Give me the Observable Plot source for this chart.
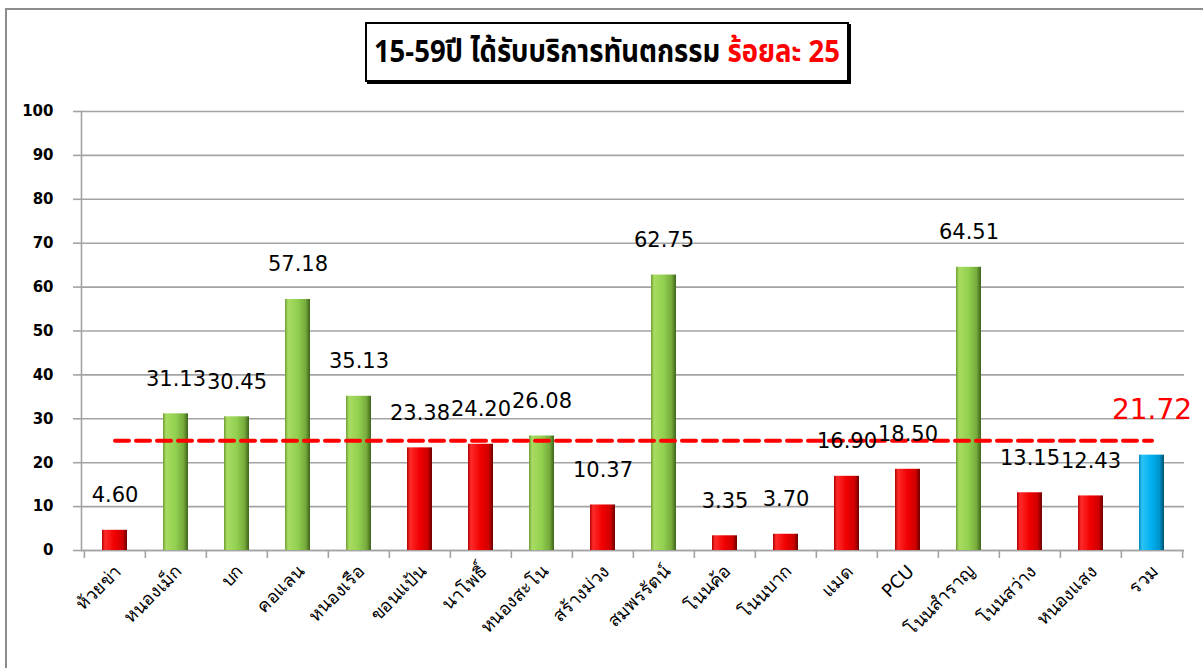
<!DOCTYPE html>
<html>
<head>
<meta charset="utf-8">
<script src="https://cdn.jsdelivr.net/npm/d3@7"></script>
<script src="https://cdn.jsdelivr.net/npm/@observablehq/plot@0.6"></script>
<style>
  body { margin: 0; background: #fff; overflow: hidden; }
  #wrap { position: relative; width: 1203px; height: 668px; overflow: hidden; background: #fff; }
  #frame { position: absolute; left: 5px; top: 8px; width: 1300px; height: 800px; border: 2px solid #8c8c8c; }
  #title { position: absolute; left: 365px; top: 22px; width: 480px; height: 56px; border: 2px solid #000;
           box-shadow: 2px 2px 0 #000; background: #fff; display: flex; align-items: center; justify-content: center; overflow: hidden;
           font-family: Tahoma, "Noto Sans Thai", "Leelawadee UI", "DejaVu Sans", sans-serif; font-weight: bold; font-size: 31px; color: #000; white-space: nowrap; }
  #title .inner { display: inline-block; transform-origin: center center; }
  #title .red { color: #ff0000; }
  #chart { position: absolute; left: 0; top: 0; }
</style>
</head>
<body>
<div id="wrap">
  <div id="frame"></div>
  <div id="chart"></div>
  <div id="title"><span class="inner" id="titleInner">15-59ปี ได้รับบริการทันตกรรม <span class="red">ร้อยละ 25</span></span></div>
</div>
<script>
const categories = ["ห้วยข่า","หนองเม็ก","บก","คอแลน","หนองเรือ","ขอนแป้น","นาโพธิ์","หนองสะโน","สร้างม่วง","สมพรรัตน์","โนนค้อ","โนนบาก","แมด","PCU","โนนสำราญ","โนนสว่าง","หนองแสง","รวม"];
const values = [4.60,31.13,30.45,57.18,35.13,23.38,24.20,26.08,10.37,62.75,3.35,3.70,16.90,18.50,64.51,13.15,12.43,21.72];
const status = ["below","above","above","above","above","below","below","above","below","above","below","below","below","below","above","below","below","total"];
const target = 25;
const yTicks = [0,10,20,30,40,50,60,70,80,90,100];

const data = categories.map((c, i) => ({cat: c, value: values[i], status: status[i]}));

const W = 1203, H = 668, mL = 81, mR = 19, mT = 111, mB = 118;
const step = (W - mL - mR) / categories.length;
const font = 'Tahoma, "DejaVu Sans", sans-serif';
const grid = "#a3a3a3";

const chart = Plot.plot({
  width: W, height: H,
  marginLeft: mL, marginRight: mR, marginTop: mT, marginBottom: mB,
  style: {fontFamily: font, background: "transparent", color: "#000"},
  x: {domain: categories, padding: 0, label: null},
  y: {domain: [0, 100], label: null},
  marks: [
    Plot.gridY(yTicks, {stroke: grid, strokeOpacity: 1, strokeWidth: 1.6}),
    Plot.axisY({ticks: yTicks, tickSize: 8, tickPadding: 20, stroke: grid, strokeWidth: 1.6, fill: "#000", fontSize: 15, fontWeight: "bold", label: null}),
    Plot.frame({anchor: "left", stroke: grid, strokeWidth: 1.6}),
    Plot.ruleY([0], {stroke: grid, strokeWidth: 1.6}),
    Plot.axisX({ticks: categories, tickSize: 8, text: null, stroke: grid, strokeWidth: 1.6, dx: -step / 2, label: null}),
    Plot.axisX({ticks: [categories[categories.length - 1]], tickSize: 8, text: null, stroke: grid, strokeWidth: 1.6, dx: step / 2, label: null}),
    Plot.axisX({ticks: categories, tickSize: 0, tickPadding: 18, tickRotate: -45, fontSize: 18, fill: "#000", dx: 3, label: null}),
    Plot.barY(data.filter(d => d.status === "below"), {x: "cat", y: "value", fill: "url(#gRed)", insetLeft: 18, insetRight: 18}),
    Plot.barY(data.filter(d => d.status === "above"), {x: "cat", y: "value", fill: "url(#gGreen)", insetLeft: 18, insetRight: 18}),
    Plot.barY(data.filter(d => d.status === "total"), {x: "cat", y: "value", fill: "url(#gBlue)", insetLeft: 18, insetRight: 18}),
    Plot.lineY(categories, {x: d => d, y: () => target, stroke: "#ff0000", strokeWidth: 4, strokeDasharray: "14,7"}),
    Plot.text(data.filter(d => d.status !== "total"), {x: "cat", y: "value", text: d => d.value.toFixed(2), dy: -35, fontSize: 21, fill: "#000", fontFamily: '"DejaVu Sans", sans-serif'}),
    Plot.text(data.filter(d => d.status === "total"), {x: "cat", y: "value", text: d => d.value.toFixed(2), dy: -45, fontSize: 28, fill: "#ff0000", fontFamily: '"DejaVu Sans", sans-serif'})
  ]
});

const svg = d3.select(chart);
const defs = svg.insert("defs", ":first-child");
function grad(id, stops) {
  const g = defs.append("linearGradient").attr("id", id).attr("x1", "0").attr("x2", "1").attr("y1", "0").attr("y2", "0");
  stops.forEach(([o, c]) => g.append("stop").attr("offset", o).attr("stop-color", c));
}
grad("gGreen", [["0", "#6f9e34"], ["0.12", "#a9dc62"], ["0.5", "#92d050"], ["0.82", "#76ab3c"], ["1", "#3e6419"]]);
grad("gRed", [["0", "#b00000"], ["0.12", "#ff2a2a"], ["0.5", "#f00000"], ["0.82", "#d00000"], ["1", "#6e0000"]]);
grad("gBlue", [["0", "#0086bb"], ["0.12", "#2cc3f5"], ["0.5", "#00b0f0"], ["0.82", "#0094cc"], ["1", "#00506f"]]);

document.getElementById("chart").appendChild(chart);

// fit the title text to the box width (the original uses a condensed face)
const inner = document.getElementById("titleInner");
const w = inner.getBoundingClientRect().width;
const sx = Math.min(1, 466 / w);
inner.style.transform = `scale(${sx}, 1)`;
</script>
</body>
</html>
